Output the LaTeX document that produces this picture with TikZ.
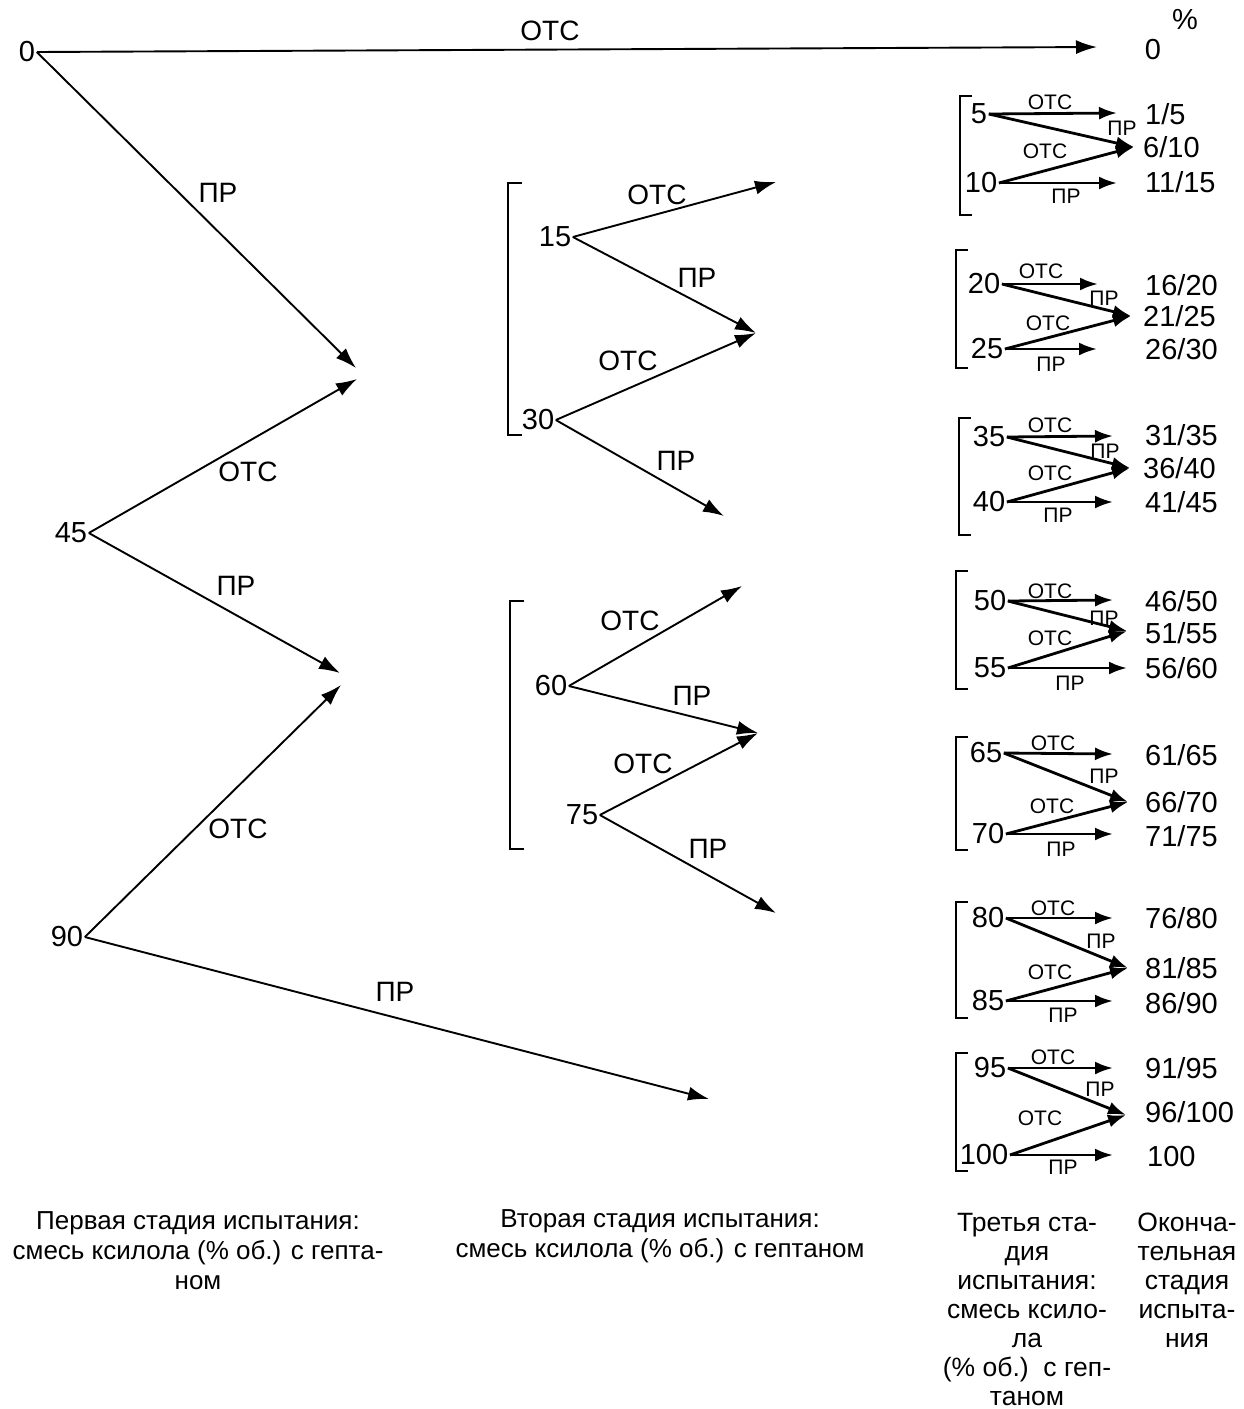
\documentclass[tikz,border=0pt]{standalone}
\usepackage{fontspec}
\setmainfont{Liberation Sans}
\usetikzlibrary{arrows.meta}
\tikzset{
 num/.style={font=\fontsize{29}{32}\selectfont, inner sep=1.5pt},
 lbl/.style={font=\fontsize{28}{32}\selectfont, inner sep=0pt},
 slbl/.style={font=\fontsize{21}{24}\selectfont, inner sep=0pt},
 res/.style={font=\fontsize{29}{32}\selectfont, anchor=west, inner sep=0pt},
 arr/.style={line width=1.9pt, -{Latex[length=21pt,width=14pt]}},
 sarr/.style={line width=2.8pt, -{Latex[length=18pt,width=13pt]}},
 brk/.style={line width=1.8pt},
 capa/.style={font=\fontsize{26}{30}\selectfont, align=center, inner sep=0pt},
 capb/.style={font=\fontsize{26.5}{29}\selectfont, align=center, inner sep=0pt},
}
\begin{document}
\begin{tikzpicture}[x=1pt,y=-1pt]
\useasboundingbox (0,0) rectangle (1243,1409);

% ---------- first stage ----------
\node[num] (n0) at (27,52) {0};
\coordinate (e0) at (1097,47);
\draw[arr] (n0.east) -- (e0);
\node[lbl] (l0) at (550,31) {ОТС};
\node[num] (f0) at (1153,50) {0};
\node[num] (pc) at (1185,20) {\%};

\coordinate (a1) at (356,368);
\draw[arr] (n0.east) -- (a1);
\node[lbl] (l1) at (218,193) {ПР};

\node[num] (n45) at (71,533) {45};
\coordinate (a2) at (357,379);
\draw[arr] (n45.east) -- (a2);
\node[lbl] (l2) at (248,472) {ОТС};
\coordinate (a3) at (340,673);
\draw[arr] (n45.east) -- (a3);
\node[lbl] (l3) at (236,586) {ПР};

\node[num] (n90) at (67,937) {90};
\coordinate (a4) at (341,685);
\draw[arr] (n90.east) -- (a4);
\node[lbl] (l4) at (238,829) {ОТС};
\coordinate (a5) at (709,1099);
\draw[arr] (n90.east) -- (a5);
\node[lbl] (l5) at (395,992) {ПР};

% ---------- second stage ----------
\draw[brk] (522,183) -- (508,183) -- (508,435) -- (522,435);
\node[num] (n15) at (555,237) {15};
\coordinate (b1) at (776,182);
\draw[arr] (n15.east) -- (b1);
\node[lbl] (m1) at (657,195) {ОТС};
\coordinate (b2) at (756,333);
\draw[arr] (n15.east) -- (b2);
\node[lbl] (m2) at (697,278) {ПР};
\node[num] (n30) at (538,420) {30};
\draw[arr] (n30.east) -- (b2);
\node[lbl] (m3) at (628,361) {ОТС};
\coordinate (b3) at (724,516);
\draw[arr] (n30.east) -- (b3);
\node[lbl] (m4) at (676,461) {ПР};

\draw[brk] (524,601) -- (510,601) -- (510,849) -- (524,849);
\node[num] (n60) at (551,686) {60};
\coordinate (b4) at (742,586);
\draw[arr] (n60.east) -- (b4);
\node[lbl] (m5) at (630,621) {ОТС};
\coordinate (b5) at (758,733);
\draw[arr] (n60.east) -- (b5);
\node[lbl] (m6) at (692,696) {ПР};
\node[num] (n75) at (582,815) {75};
\draw[arr] (n75.east) -- (b5);
\node[lbl] (m7) at (643,764) {ОТС};
\coordinate (b6) at (776,913);
\draw[arr] (n75.east) -- (b6);
\node[lbl] (m8) at (708,849) {ПР};

% ---------- third stage ----------
% group 1
\draw[brk] (972,96) -- (960,96) -- (960,215) -- (972,215);
\node[num] (g1a) at (979,114) {5};
\node[num] (g1b) at (981,183) {10};
\coordinate (t1a) at (1117,113);
\coordinate (t1m) at (1134,147);
\coordinate (t1b) at (1117,183);
\draw[sarr] (g1a.east) -- (t1a);
\draw[sarr] (g1a.east) -- (t1m);
\draw[sarr] (g1b.east) -- (t1m);
\draw[sarr] (g1b.east) -- (t1b);
\node[slbl] (s1a) at (1050,102) {ОТС};
\node[slbl] (s1b) at (1122,128) {ПР};
\node[slbl] (s1c) at (1045,151) {ОТС};
\node[slbl] (s1d) at (1066,196) {ПР};
\node[res] (r1a) at (1145,114) {1/5};
\node[res] (r1b) at (1143,147) {6/10};
\node[res] (r1c) at (1145,182) {11/15};

% group 2
\draw[brk] (968,250) -- (956,250) -- (956,368) -- (968,368);
\node[num] (g2a) at (984,284) {20};
\node[num] (g2b) at (987,349) {25};
\coordinate (t2a) at (1098,284);
\coordinate (t2m) at (1131,316);
\coordinate (t2b) at (1097,349);
\draw[sarr] (g2a.east) -- (t2a);
\draw[sarr] (g2a.east) -- (t2m);
\draw[sarr] (g2b.east) -- (t2m);
\draw[sarr] (g2b.east) -- (t2b);
\node[slbl] (s2a) at (1041,271) {ОТС};
\node[slbl] (s2b) at (1104,298) {ПР};
\node[slbl] (s2c) at (1048,323) {ОТС};
\node[slbl] (s2d) at (1051,364) {ПР};
\node[res] (r2a) at (1145,285) {16/20};
\node[res] (r2b) at (1143,316) {21/25};
\node[res] (r2c) at (1145,349) {26/30};

% group 3
\draw[brk] (971,418) -- (959,418) -- (959,535) -- (971,535);
\node[num] (g3a) at (989,437) {35};
\node[num] (g3b) at (989,502) {40};
\coordinate (t3a) at (1113,436);
\coordinate (t3m) at (1130,468);
\coordinate (t3b) at (1113,502);
\draw[sarr] (g3a.east) -- (t3a);
\draw[sarr] (g3a.east) -- (t3m);
\draw[sarr] (g3b.east) -- (t3m);
\draw[sarr] (g3b.east) -- (t3b);
\node[slbl] (s3a) at (1050,425) {ОТС};
\node[slbl] (s3b) at (1105,451) {ПР};
\node[slbl] (s3c) at (1050,473) {ОТС};
\node[slbl] (s3d) at (1058,515) {ПР};
\node[res] (r3a) at (1145,435) {31/35};
\node[res] (r3b) at (1143,468) {36/40};
\node[res] (r3c) at (1145,502) {41/45};

% group 4
\draw[brk] (968,571) -- (956,571) -- (956,689) -- (968,689);
\node[num] (g4a) at (990,601) {50};
\node[num] (g4b) at (990,668) {55};
\coordinate (t4a) at (1113,600);
\coordinate (t4m) at (1127,631);
\coordinate (t4b) at (1127,668);
\draw[sarr] (g4a.east) -- (t4a);
\draw[sarr] (g4a.east) -- (t4m);
\draw[sarr] (g4b.east) -- (t4m);
\draw[sarr] (g4b.east) -- (t4b);
\node[slbl] (s4a) at (1050,591) {ОТС};
\node[slbl] (s4b) at (1104,618) {ПР};
\node[slbl] (s4c) at (1050,638) {ОТС};
\node[slbl] (s4d) at (1070,683) {ПР};
\node[res] (r4a) at (1145,601) {46/50};
\node[res] (r4b) at (1145,633) {51/55};
\node[res] (r4c) at (1145,668) {56/60};

% group 5
\draw[brk] (968,737) -- (956,737) -- (956,850) -- (968,850);
\node[num] (g5a) at (986,753) {65};
\node[num] (g5b) at (988,834) {70};
\coordinate (t5a) at (1113,754);
\coordinate (t5m) at (1128,802);
\coordinate (t5b) at (1113,834);
\draw[sarr] (g5a.east) -- (t5a);
\draw[sarr] (g5a.east) -- (t5m);
\draw[sarr] (g5b.east) -- (t5m);
\draw[sarr] (g5b.east) -- (t5b);
\node[slbl] (s5a) at (1053,743) {ОТС};
\node[slbl] (s5b) at (1104,776) {ПР};
\node[slbl] (s5c) at (1052,806) {ОТС};
\node[slbl] (s5d) at (1061,849) {ПР};
\node[res] (r5a) at (1145,755) {61/65};
\node[res] (r5b) at (1145,802) {66/70};
\node[res] (r5c) at (1145,836) {71/75};

% group 6
\draw[brk] (968,902) -- (956,902) -- (956,1018) -- (968,1018);
\node[num] (g6a) at (988,918) {80};
\node[num] (g6b) at (988,1001) {85};
\coordinate (t6a) at (1113,918);
\coordinate (t6m) at (1128,968);
\coordinate (t6b) at (1113,1001);
\draw[sarr] (g6a.east) -- (t6a);
\draw[sarr] (g6a.east) -- (t6m);
\draw[sarr] (g6b.east) -- (t6m);
\draw[sarr] (g6b.east) -- (t6b);
\node[slbl] (s6a) at (1053,908) {ОТС};
\node[slbl] (s6b) at (1101,941) {ПР};
\node[slbl] (s6c) at (1050,972) {ОТС};
\node[slbl] (s6d) at (1063,1015) {ПР};
\node[res] (r6a) at (1145,918) {76/80};
\node[res] (r6b) at (1145,968) {81/85};
\node[res] (r6c) at (1145,1003) {86/90};

% group 7
\draw[brk] (968,1053) -- (956,1053) -- (956,1171) -- (968,1171);
\node[num] (g7a) at (990,1068) {95};
\node[num] (g7b) at (984,1155) {100};
\coordinate (t7a) at (1113,1068);
\coordinate (t7m) at (1126,1115);
\coordinate (t7b) at (1113,1155);
\draw[sarr] (g7a.east) -- (t7a);
\draw[sarr] (g7a.east) -- (t7m);
\draw[sarr] (g7b.east) -- (t7m);
\draw[sarr] (g7b.east) -- (t7b);
\node[slbl] (s7a) at (1053,1057) {ОТС};
\node[slbl] (s7b) at (1100,1089) {ПР};
\node[slbl] (s7c) at (1040,1118) {ОТС};
\node[slbl] (s7d) at (1063,1167) {ПР};
\node[res] (r7a) at (1145,1068) {91/95};
\node[res] (r7b) at (1145,1112) {96/100};
\node[res] (r7c) at (1147,1157) {100};

% ---------- captions ----------
\node[capa] (c1) at (198,1251) {Первая стадия испытания:\\смесь ксилола (\% об.) с гепта-\\ном};
\node[capa] (c2) at (660,1236) {Вторая стадия испытания:\\смесь ксилола (\% об.) с гептаном};
\node[capb] (c3) at (1027,1309) {Третья ста-\\дия\\испытания:\\смесь ксило-\\ла\\(\% об.)\ \ с геп-\\таном};
\node[capb] (c4) at (1187,1280) {Оконча-\\тельная\\стадия\\испыта-\\ния};
\end{tikzpicture}
\end{document}
